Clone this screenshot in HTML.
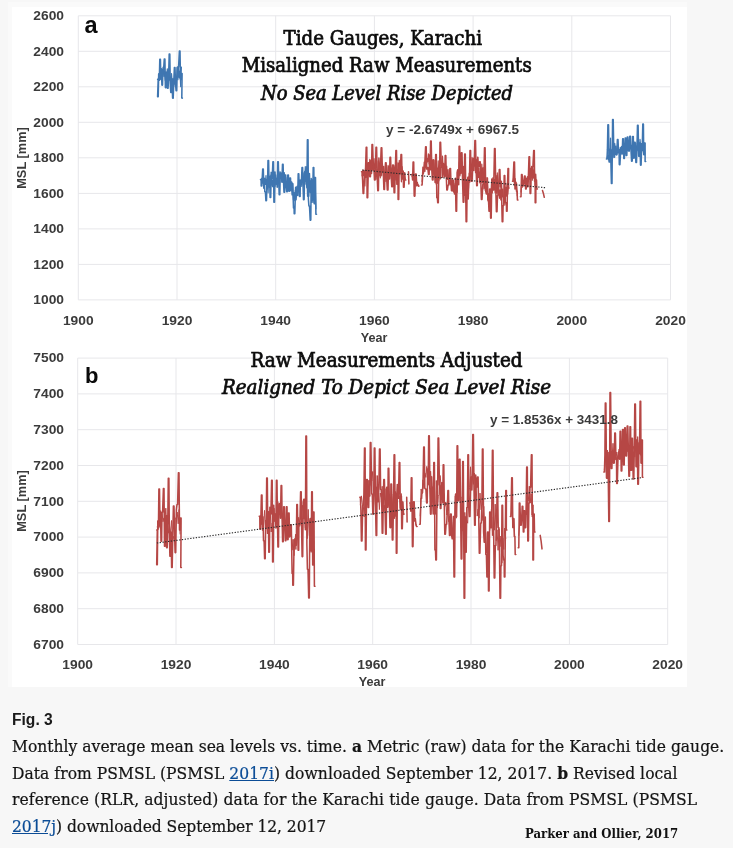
<!DOCTYPE html>
<html lang="en">
<head>
<meta charset="utf-8">
<title>Fig. 3 - Monthly average mean sea levels vs. time, Karachi tide gauge</title>
<style>
html,body{margin:0;padding:0;}
body{width:733px;height:848px;position:relative;overflow:hidden;background:#f7f7f7;font-family:"DejaVu Serif Condensed","DejaVu Serif","Liberation Serif",serif;color:#1b1b1b;}
.topband{position:absolute;left:8px;top:2px;width:679px;height:685px;background:#fafafa;}
.panel{position:absolute;left:12px;top:7px;width:675.3px;height:680px;background:#fff;}
figcaption{position:absolute;left:0;top:0;width:733px;height:848px;margin:0;}
.figno{position:absolute;left:12px;top:710px;font-family:"Liberation Sans",Arial,sans-serif;font-weight:700;font-size:15.6px;line-height:20px;color:#1a1a1a;white-space:nowrap;}
.ln{font-stretch:condensed;position:absolute;left:12px;font-size:17.3px;line-height:27px;white-space:nowrap;color:#141414;-webkit-text-stroke:0.2px #141414;}
.ln a{color:#0b4c96;text-decoration:underline;-webkit-text-stroke-color:#0b4c96;}
.l1{top:732.5px;letter-spacing:0.01px;}
.l2{top:759.5px;letter-spacing:0.04px;}
.l3{top:786.3px;letter-spacing:0.09px;}
.l4{top:813.0px;letter-spacing:-0.06px;}
.credit{font-stretch:condensed;position:absolute;left:525px;top:824.5px;font-size:13px;line-height:18px;white-space:nowrap;color:#111;font-weight:700;}
</style>
</head>
<body>
<div class="topband"></div>
<figure style="margin:0">
<div class="panel"></div>
<svg width="733" height="848" viewBox="0 0 733 848" style="position:absolute;left:0;top:0">
<g stroke="#e7e7ea" stroke-width="1" fill="none">
<line x1="78.3" y1="15.8" x2="670.5" y2="15.8"/>
<line x1="78.3" y1="51.3" x2="670.5" y2="51.3"/>
<line x1="78.3" y1="86.8" x2="670.5" y2="86.8"/>
<line x1="78.3" y1="122.3" x2="670.5" y2="122.3"/>
<line x1="78.3" y1="157.8" x2="670.5" y2="157.8"/>
<line x1="78.3" y1="193.4" x2="670.5" y2="193.4"/>
<line x1="78.3" y1="228.9" x2="670.5" y2="228.9"/>
<line x1="78.3" y1="264.4" x2="670.5" y2="264.4"/>
<line x1="78.3" y1="299.9" x2="670.5" y2="299.9"/>
<line x1="78.3" y1="15.8" x2="78.3" y2="299.9"/>
<line x1="177.0" y1="15.8" x2="177.0" y2="299.9"/>
<line x1="275.7" y1="15.8" x2="275.7" y2="299.9"/>
<line x1="374.4" y1="15.8" x2="374.4" y2="299.9"/>
<line x1="473.1" y1="15.8" x2="473.1" y2="299.9"/>
<line x1="571.8" y1="15.8" x2="571.8" y2="299.9"/>
<line x1="670.5" y1="15.8" x2="670.5" y2="299.9"/>
<line x1="77.7" y1="358.1" x2="667.7" y2="358.1"/>
<line x1="77.7" y1="393.9" x2="667.7" y2="393.9"/>
<line x1="77.7" y1="429.7" x2="667.7" y2="429.7"/>
<line x1="77.7" y1="465.5" x2="667.7" y2="465.5"/>
<line x1="77.7" y1="501.3" x2="667.7" y2="501.3"/>
<line x1="77.7" y1="537.1" x2="667.7" y2="537.1"/>
<line x1="77.7" y1="572.9" x2="667.7" y2="572.9"/>
<line x1="77.7" y1="608.7" x2="667.7" y2="608.7"/>
<line x1="77.7" y1="644.5" x2="667.7" y2="644.5"/>
<line x1="77.7" y1="358.1" x2="77.7" y2="644.5"/>
<line x1="176.0" y1="358.1" x2="176.0" y2="644.5"/>
<line x1="274.4" y1="358.1" x2="274.4" y2="644.5"/>
<line x1="372.7" y1="358.1" x2="372.7" y2="644.5"/>
<line x1="471.0" y1="358.1" x2="471.0" y2="644.5"/>
<line x1="569.4" y1="358.1" x2="569.4" y2="644.5"/>
<line x1="667.7" y1="358.1" x2="667.7" y2="644.5"/>
</g>
<g>
<polyline points="158.2,78.6 158.9,77.2 159.6,80.1 160.3,71.4 161.0,76.9 161.7,69.1 162.4,73.2 163.1,67.0 163.8,76.3 164.5,70.8 165.2,80.3 165.9,71.9 166.6,76.6 167.3,68.9 168.0,79.7 168.7,72.1 169.4,80.1 170.1,76.5 170.8,87.7 171.5,73.5 172.2,82.3 173.0,78.5 173.7,86.8 174.4,78.3 175.1,84.1 175.8,76.1 176.5,80.3 177.2,67.1 177.9,79.7 178.6,66.4 179.3,77.8 180.0,71.0 180.7,86.7 181.4,67.1" fill="none" stroke="#3f76b1" stroke-width="1.2" stroke-linejoin="round" stroke-linecap="round"/>
<polyline points="261.1,179.7 261.8,178.4 262.5,183.1 263.2,177.9 263.9,188.1 264.6,178.5 265.3,184.4 266.0,175.5 266.7,189.3 267.4,179.0 268.1,192.8 268.8,176.6 269.5,184.9 270.2,175.1 270.9,185.1 271.6,178.6 272.3,186.7 273.0,179.5 273.7,189.6 274.4,173.5 275.1,186.3 275.8,174.9 276.5,184.3 277.2,179.4 277.9,186.6 278.6,174.8 279.3,177.1 280.0,171.7 280.8,177.6 281.5,176.1 282.2,182.5 282.9,175.4 283.6,180.4 284.3,172.6 285.0,181.9 285.7,177.4 286.4,186.4 287.1,181.1 287.8,184.9 288.5,179.7 289.2,185.0 289.9,182.2 290.6,185.6 291.3,183.9 292.0,195.0 292.7,183.4 293.4,199.7 294.1,192.6 294.8,200.6 295.5,187.0 296.2,199.8 296.9,186.9 297.6,193.6 298.3,185.6 299.0,188.3 299.7,179.8 300.4,184.1 301.1,179.3 301.8,186.5 302.5,180.8 303.2,182.3 303.9,172.8 304.6,181.8 305.3,166.7 306.0,184.2 306.7,166.5 307.5,196.3 308.2,171.0 308.9,196.2 309.6,173.4 310.3,192.6 311.0,180.5 311.7,202.4 312.4,187.4 313.1,202.4 313.8,184.6 314.5,201.2 315.2,183.3 315.9,208.7" fill="none" stroke="#3f76b1" stroke-width="1.2" stroke-linejoin="round" stroke-linecap="round"/>
<polyline points="607.0,158.3 607.7,155.3 608.4,160.0 609.1,152.0 609.8,158.1 610.5,138.1 611.2,161.3 611.9,150.0 612.6,158.1 613.3,148.3 614.0,154.3 614.7,143.3 615.4,150.0 616.1,146.0 616.8,154.9 617.5,149.4 618.2,153.2 618.9,149.3 619.6,153.4 620.3,147.4 621.0,154.2 621.7,147.6 622.4,153.1 623.1,144.5 623.8,151.1 624.5,143.6 625.2,148.3 625.9,145.1 626.6,148.0 627.3,141.7 628.0,146.3 628.7,144.2 629.4,151.0 630.2,141.9 630.9,149.1 631.6,145.3 632.3,149.6 633.0,146.4 633.7,151.9 634.4,146.3 635.1,150.2 635.8,143.0 636.5,150.3 637.2,145.8 637.9,150.6 638.6,144.4 639.3,153.4 640.0,139.3 640.7,147.1 641.4,145.0 642.1,150.5 642.8,144.5 643.5,153.0 644.2,145.8 644.9,154.4" fill="none" stroke="#3f76b1" stroke-width="1.2" stroke-linejoin="round" stroke-linecap="round"/>
<polyline points="362.1,175.8 362.8,169.8 363.5,175.7 364.2,170.5 364.9,185.9 365.6,167.9 366.3,177.4 367.0,167.7 367.7,176.5 368.4,164.8 369.1,169.9 369.8,159.4 370.5,169.3 371.2,160.0 371.9,170.1 372.6,161.6 373.3,170.3 374.0,158.7 374.7,169.5 375.4,163.8 376.1,179.1 376.8,169.8 377.5,176.6 378.2,160.9 378.9,176.0 379.6,165.2 380.3,177.8 381.0,163.2 381.7,175.8 382.4,163.6 383.1,171.9 383.8,166.4 384.5,176.4 385.2,173.2 385.9,181.4 386.6,171.3 387.3,179.9 388.1,165.4 388.8,174.4 389.5,169.1 390.2,175.1 390.9,167.4 391.6,178.0 392.3,168.3 393.0,175.4 393.7,166.7 394.4,175.4 395.1,165.2 395.8,180.0 396.5,172.2 397.2,184.2 397.9,162.9 398.6,172.2 399.3,160.4 400.0,173.8 400.7,167.7 401.4,181.8 402.1,166.7 402.8,175.6 403.5,172.5 404.2,179.7 404.9,179.5" fill="none" stroke="#b64745" stroke-width="1.2" stroke-linejoin="round" stroke-linecap="round"/>
<polyline points="412.1,176.3 412.8,174.4 413.5,178.1 414.2,174.5 415.0,182.9 415.7,178.1 416.4,186.0 417.1,183.1 417.8,185.6 418.5,184.9" fill="none" stroke="#b64745" stroke-width="1.2" stroke-linejoin="round" stroke-linecap="round"/>
<polyline points="422.1,181.6 422.8,167.0 423.5,173.7 424.2,162.1 424.9,171.4 425.6,160.3 426.3,167.6 427.0,158.4 427.7,161.8 428.4,153.9 429.1,163.9 429.8,157.1 430.5,170.0 431.2,159.5 431.9,168.7 432.6,159.8 433.3,169.9 434.0,160.1 434.7,176.9 435.4,173.1 436.1,183.9 436.8,167.8 437.5,183.3 438.2,160.9 438.9,180.8 439.6,165.4 440.3,179.0 441.0,165.3 441.8,167.3 442.5,156.2 443.2,168.3 443.9,163.3 444.6,176.9 445.3,167.7 446.0,176.4 446.7,166.1 447.4,179.5 448.1,169.5 448.8,184.0 449.5,180.1 450.2,184.8 450.9,178.6 451.6,186.3 452.3,180.9 453.0,191.1 453.7,185.4 454.4,194.1 455.1,183.5 455.8,195.9 456.5,179.1 457.2,192.3 457.9,169.7 458.6,178.2 459.3,161.8 460.0,175.8 460.7,161.4 461.4,171.2 462.1,161.9 462.8,180.1 463.5,166.4 464.2,195.5 464.9,183.6 465.6,202.3 466.3,181.7 467.0,190.8 467.7,177.0 468.4,190.4 469.2,173.0 469.9,182.1 470.6,164.5 471.3,170.6 472.0,157.4 472.7,164.5 473.4,158.0 474.1,166.2 474.8,155.1 475.5,172.7 476.2,159.3 476.9,170.1 477.6,157.3 478.3,177.5 479.0,168.0 479.7,182.8 480.4,171.7 481.1,182.7 481.8,164.0 482.5,182.9 483.2,167.5 483.9,188.8 484.6,174.3 485.3,190.5 486.0,177.7 486.7,192.3 487.4,184.2 488.1,200.9 488.8,193.6 489.5,202.3 490.2,194.0 490.9,201.9 491.6,179.9 492.3,192.9 493.0,177.6 493.7,190.3 494.4,179.3 495.1,192.7 495.9,175.4 496.6,193.2 497.3,172.9 498.0,194.5 498.7,185.9 499.4,198.3 500.1,189.8 500.8,200.0 501.5,181.0 502.2,196.9 502.9,189.1 503.6,201.8 504.3,197.7 505.0,204.9 505.7,187.2 506.4,196.2 507.1,183.4 507.8,194.2 508.5,185.7" fill="none" stroke="#b64745" stroke-width="1.2" stroke-linejoin="round" stroke-linecap="round"/>
<polyline points="513.1,181.1 513.8,176.0 514.5,185.7 515.2,178.7 515.9,188.5 516.6,183.3 517.3,195.6" fill="none" stroke="#b64745" stroke-width="1.2" stroke-linejoin="round" stroke-linecap="round"/>
<polyline points="521.0,192.0 521.7,182.7 522.5,187.2 523.2,181.7 523.9,183.0 524.6,180.8 525.3,182.7 526.0,179.8 526.7,181.2 527.4,176.5 528.1,181.6 528.8,174.5 529.5,179.1 530.2,168.1 530.9,177.6 531.6,166.4 532.3,180.1 533.0,167.1 533.7,178.2 534.4,169.6 535.1,185.5 535.8,174.2 536.5,187.8" fill="none" stroke="#b64745" stroke-width="1.2" stroke-linejoin="round" stroke-linecap="round"/>
<polyline points="157.6,79.5 158.2,79.5 157.6,96.7 158.2,96.7 158.7,73.9 159.3,80.2 159.8,59.2 160.4,59.2 160.9,79.5 161.4,68.8 161.9,85.1 162.5,85.1 162.9,70.7 163.5,70.7 164.3,58.9 164.9,58.9 165.4,87.6 166.0,87.6 166.8,72.5 167.4,72.5 167.5,88.3 168.1,88.3 168.7,73.1 169.2,53.9 169.8,53.9 170.3,84.8 170.8,92.5 171.4,92.5 171.5,80.5 172.1,80.5 172.6,98.1 173.2,98.1 173.8,80.7 174.4,67.6 175.0,67.6 175.5,83.6 176.1,90.7 176.7,90.7 177.3,67.5 178.0,66.9 178.6,66.9 179.4,51.1 180.0,51.1 180.5,79.5 181.1,79.5 181.5,73.6 182.1,73.6 181.8,98.1 182.4,98.1" fill="none" stroke="#3f76b1" stroke-width="1.55" stroke-linejoin="round" stroke-linecap="round"/>
<polyline points="260.5,179.6 261.1,179.6 261.2,185.9 261.8,185.9 262.2,178.9 262.7,169.1 263.3,169.1 263.8,188.0 264.3,178.2 264.8,191.7 265.4,191.7 265.9,200.6 266.5,200.6 267.0,180.7 267.5,186.3 268.0,160.6 268.6,160.6 269.1,186.9 269.6,176.4 270.1,197.5 270.7,197.5 271.2,172.4 271.6,178.5 272.2,178.5 272.9,161.7 273.5,161.7 273.9,202.2 274.5,202.2 275.0,172.0 275.5,184.1 276.0,178.5 276.6,178.5 277.2,187.2 277.7,161.7 278.3,161.7 278.8,182.2 279.2,194.8 279.8,194.8 280.3,172.9 280.8,173.3 281.4,173.3 281.9,181.9 282.5,164.3 283.1,164.3 283.5,181.4 284.0,192.2 284.6,192.2 285.1,174.9 285.7,174.9 286.2,186.5 286.7,191.7 287.3,191.7 287.8,174.9 288.4,174.9 288.9,191.2 289.5,191.2 289.9,178.0 290.5,178.0 291.0,190.7 291.6,182.0 292.1,183.8 292.7,183.8 293.5,208.0 294.1,208.0 294.2,213.8 294.8,213.8 295.5,190.4 296.1,193.2 296.7,193.2 297.2,186.3 297.7,195.4 298.2,173.8 298.8,173.8 299.5,196.4 300.1,196.4 300.3,183.8 300.9,183.8 301.5,179.5 302.0,167.5 302.6,167.5 303.1,187.7 303.5,199.6 304.1,199.6 304.7,171.8 305.2,171.2 305.8,171.2 305.8,180.7 306.4,180.7 306.9,187.8 307.4,139.8 308.0,139.8 308.4,199.3 308.9,205.9 309.5,205.9 310.2,220.1 310.8,220.1 311.2,178.6 311.7,180.7 312.3,180.7 312.7,198.0 313.2,167.5 313.8,167.5 314.2,203.8 314.8,203.8 314.9,177.5 315.5,177.5 315.9,214.3 316.5,214.3" fill="none" stroke="#3f76b1" stroke-width="1.55" stroke-linejoin="round" stroke-linecap="round"/>
<polyline points="361.5,171.7 362.1,171.7 362.6,180.2 363.1,193.4 363.7,193.4 364.4,175.6 365.0,175.6 365.6,167.6 366.2,147.2 366.8,147.2 367.1,197.8 367.7,197.8 368.4,162.8 369.0,162.8 369.8,176.7 370.4,176.7 370.9,161.0 371.5,173.5 372.0,144.5 372.6,144.5 373.4,170.1 374.0,170.1 374.5,180.0 375.1,180.0 375.6,163.5 376.0,147.2 376.6,147.2 377.2,176.6 377.8,190.6 378.4,190.6 378.9,158.1 379.4,173.9 380.0,173.9 380.6,163.5 381.2,147.8 381.8,147.8 382.3,167.8 382.9,167.8 383.4,174.9 383.9,189.5 384.5,189.5 385.0,170.6 385.5,162.8 386.1,162.8 386.7,178.1 387.3,190.0 388.0,190.0 388.5,166.7 389.1,166.7 389.5,179.0 390.0,157.3 390.6,157.3 391.2,176.8 391.8,186.7 392.4,186.7 392.7,165.0 393.3,165.0 394.1,192.8 394.7,192.8 395.3,170.7 395.9,150.6 396.5,150.6 396.9,184.3 397.4,170.1 398.0,170.1 398.1,199.5 398.7,199.5 399.2,163.5 399.7,171.7 400.3,171.7 401.0,154.5 401.6,154.5 402.1,178.9 402.6,171.1 403.2,171.1 403.5,187.3 404.1,187.3 404.7,172.8 405.3,180.0 405.9,180.0" fill="none" stroke="#b64745" stroke-width="1.55" stroke-linejoin="round" stroke-linecap="round"/>
<polyline points="408.5,171.7 408.9,183.9" fill="none" stroke="#b64745" stroke-width="1.55" stroke-linejoin="round" stroke-linecap="round"/>
<polyline points="411.5,174.5 412.1,174.5 412.6,180.0 413.1,162.0 413.7,162.0 414.2,196.1 414.9,196.1 415.5,173.9 416.1,173.9 416.6,182.2 417.2,182.2 417.8,185.2 418.4,186.1 419.0,186.1" fill="none" stroke="#b64745" stroke-width="1.55" stroke-linejoin="round" stroke-linecap="round"/>
<polyline points="421.5,185.0 422.1,185.0 422.9,172.2 423.5,172.2 423.8,169.5 424.4,169.5 425.0,159.9 425.6,146.7 426.2,146.7 426.7,169.1 427.2,167.6 427.8,167.6 428.5,174.5 429.1,174.5 429.6,154.9 430.1,166.3 430.6,141.1 431.2,141.1 431.8,169.9 432.4,180.0 433.0,180.0 433.5,159.7 433.9,170.1 434.5,170.1 435.1,182.4 435.7,154.5 436.3,154.5 436.8,197.8 437.4,197.8 437.7,202.8 438.3,202.8 438.9,167.0 439.5,177.2 440.0,142.2 440.6,142.2 441.3,165.6 442.0,165.6 442.3,177.2 442.9,177.2 443.7,164.4 444.3,164.4 444.7,175.8 445.2,155.6 445.8,155.6 446.3,176.5 446.8,190.0 447.4,190.0 448.1,185.0 448.7,185.0 449.3,176.5 449.9,168.4 450.5,168.4 451.0,183.8 451.5,190.6 452.1,190.6 452.6,180.0 453.2,180.0 453.7,191.5 454.2,192.3 454.8,192.3 455.4,178.3 456.0,211.2 456.6,211.2 457.1,172.6 457.6,170.1 458.2,170.1 458.7,184.7 459.1,146.2 459.7,146.2 460.2,173.4 460.8,173.4 461.4,152.8 462.0,152.8 462.6,182.5 463.2,202.2 463.8,202.2 464.3,176.0 464.7,153.9 465.3,153.9 466.1,221.7 466.7,221.7 467.2,179.9 467.6,198.9 468.2,198.9 468.9,176.7 469.5,176.7 470.0,150.6 470.6,150.6 471.0,180.9 471.5,181.2 472.1,181.2 472.9,161.7 473.5,161.7 473.9,170.4 474.4,157.9 474.9,140.6 475.5,140.6 476.1,169.2 476.7,185.6 477.3,185.6 477.8,157.2 478.3,166.7 478.9,166.7 479.6,161.7 480.2,161.7 480.8,181.3 481.4,199.5 482.0,199.5 482.8,184.5 483.4,184.5 484.0,170.7 484.5,147.8 485.1,147.8 485.7,191.1 486.3,193.9 486.9,193.9 487.4,177.9 487.9,200.0 488.5,200.0 489.0,211.2 489.6,211.2 489.7,188.9 490.3,188.9 490.6,218.1 491.2,218.1 491.8,179.0 492.4,179.0 493.1,186.7 493.7,186.7 494.5,148.4 495.1,148.4 495.8,189.9 496.4,211.7 497.0,211.7 497.5,195.6 498.1,195.6 498.7,184.2 499.3,169.5 499.9,169.5 500.4,186.7 501.0,186.7 501.6,195.0 502.2,221.7 502.8,221.7 503.1,205.6 503.7,205.6 504.2,175.6 504.8,175.6 505.3,202.7 505.8,202.8 506.4,202.8 506.5,211.2 507.1,211.2 507.5,184.6 508.0,168.4 508.6,168.4 508.5,187.9 509.1,187.9" fill="none" stroke="#b64745" stroke-width="1.55" stroke-linejoin="round" stroke-linecap="round"/>
<polyline points="512.5,181.2 513.1,181.2 513.9,162.0 514.5,162.0 515.0,188.9 515.4,182.2 516.0,182.2 516.5,191.1 517.1,191.1 517.4,200.0 518.0,200.0" fill="none" stroke="#b64745" stroke-width="1.55" stroke-linejoin="round" stroke-linecap="round"/>
<polyline points="520.4,196.7 521.0,196.7 521.5,174.5 522.1,174.5 522.9,185.6 523.5,185.6 524.0,181.4 524.5,176.1 525.1,176.1 525.6,188.9 526.2,188.9 526.3,178.4 526.9,178.4 527.4,186.7 528.0,186.7 528.5,172.8 529.0,156.7 529.6,156.7 530.1,193.4 530.7,193.4 531.2,174.5 531.8,174.5 532.3,166.7 532.9,166.7 533.7,150.6 534.3,150.6 534.6,181.2 535.2,181.2 535.2,202.8 535.8,202.8 535.9,180.0 536.5,180.0 536.8,188.9 537.4,188.9" fill="none" stroke="#b64745" stroke-width="1.55" stroke-linejoin="round" stroke-linecap="round"/>
<polyline points="542.5,190.6 543.4,193.4 544.3,197.3" fill="none" stroke="#b64745" stroke-width="1.55" stroke-linejoin="round" stroke-linecap="round"/>
<polyline points="606.4,158.9 607.0,158.9 607.4,149.9 607.9,124.8 608.5,124.8 609.1,162.0 609.7,162.0 610.0,149.3 610.6,149.3 611.4,183.5 612.0,183.5 612.6,119.5 613.2,119.5 613.9,157.2 614.5,157.2 614.9,148.9 615.5,148.9 616.2,154.6 616.8,154.6 617.4,139.6 618.0,139.6 618.5,151.9 619.1,151.9 619.3,164.6 619.9,164.6 620.6,151.9 621.2,151.9 621.7,146.5 622.2,154.0 622.7,138.8 623.3,138.8 623.8,158.5 624.4,158.5 625.2,137.9 625.8,137.9 626.2,155.4 626.8,155.4 627.3,137.0 627.9,137.0 628.5,151.0 629.1,151.0 629.8,136.2 630.5,136.2 631.0,150.6 631.6,161.1 632.2,161.1 632.7,136.6 633.3,136.6 633.6,158.1 634.2,158.1 634.5,142.3 635.1,142.3 635.9,162.4 636.5,162.4 637.0,146.2 637.5,125.2 638.1,125.2 638.7,156.3 639.3,156.3 639.4,143.1 640.0,143.1 640.5,165.1 641.1,165.1 641.7,143.5 642.2,150.7 642.8,123.9 643.4,123.9 643.7,154.6 644.3,154.6 644.5,143.1 645.1,143.1 645.1,161.5 645.7,161.5" fill="none" stroke="#3f76b1" stroke-width="1.55" stroke-linejoin="round" stroke-linecap="round"/>
<line x1="362.6" y1="170.1" x2="545.2" y2="187.7" stroke="#2a2a2a" stroke-width="1.15" stroke-dasharray="1.3 1.5"/>
</g>
<g>
<polyline points="157.3,526.8 158.2,524.2 159.2,527.4 160.1,512.7 161.1,513.9 162.0,512.6 163.0,521.8 163.9,517.9 164.9,522.3 165.8,508.2 166.8,525.7 167.7,525.6 168.7,533.2 169.6,526.4 170.6,533.3 171.5,520.5 172.5,539.6 173.4,536.3 174.4,541.2 175.3,518.1 176.3,518.2 177.2,512.1 178.2,523.8 179.1,509.5 180.1,534.0" fill="none" stroke="#b64745" stroke-width="1.0" stroke-linejoin="round" stroke-linecap="round"/>
<polyline points="259.8,516.3 260.8,515.8 261.7,524.7 262.6,518.8 263.6,528.0 264.5,510.4 265.5,525.7 266.4,521.7 267.4,534.0 268.3,511.0 269.3,520.8 270.2,510.4 271.2,532.0 272.1,523.1 273.1,525.8 274.0,508.1 275.0,519.9 275.9,513.7 276.9,521.6 277.8,501.5 278.8,512.1 279.7,507.0 280.7,517.4 281.6,510.4 282.6,521.4 283.5,513.8 284.5,522.9 285.4,524.1 286.4,523.4 287.3,521.6 288.3,526.2 289.2,523.8 290.2,536.8 291.1,530.4 292.1,550.2 293.0,539.3 294.0,555.7 294.9,538.3 295.9,549.5 296.8,526.4 297.8,528.3 298.7,517.3 299.7,526.4 300.6,521.7 301.6,525.1 302.5,505.3 303.5,511.5 304.4,506.1 305.4,527.9 306.3,504.1 307.3,538.6 308.2,509.4 309.2,535.2 310.1,539.6 311.1,552.4 312.0,538.5 313.0,549.1 313.9,541.8" fill="none" stroke="#b64745" stroke-width="1.0" stroke-linejoin="round" stroke-linecap="round"/>
<polyline points="604.4,469.6 605.4,456.2 606.3,472.7 607.3,450.0 608.2,462.3 609.2,451.9 610.1,466.9 611.1,457.1 612.0,457.9 613.0,443.3 613.9,457.1 614.9,453.7 615.8,460.1 616.8,452.0 617.7,458.3 618.7,451.5 619.6,458.1 620.6,448.2 621.5,451.0 622.5,444.0 623.4,450.4 624.4,442.1 625.3,445.6 626.3,442.4 627.2,451.8 628.2,443.7 629.1,453.4 630.1,448.2 631.0,456.4 632.0,445.7 632.9,449.3 633.9,446.1 634.8,457.1 635.8,447.4 636.7,450.8 637.7,436.6 638.6,450.2 639.6,446.0 640.5,455.3 641.5,447.7 642.4,461.4" fill="none" stroke="#b64745" stroke-width="1.0" stroke-linejoin="round" stroke-linecap="round"/>
<polyline points="360.4,504.3 361.4,495.9 362.3,504.4 363.2,504.5 364.2,517.0 365.1,491.4 366.1,494.7 367.0,484.2 368.0,498.0 368.9,480.3 369.9,485.6 370.8,475.9 371.8,480.8 372.7,471.5 373.7,496.5 374.6,491.5 375.6,507.5 376.5,486.8 377.5,496.7 378.4,491.0 379.4,509.6 380.3,493.0 381.3,497.1 382.2,486.3 383.2,512.4 384.1,505.0 385.1,511.3 386.0,488.6 387.0,500.6 387.9,492.7 388.9,502.0 389.8,496.8 390.8,503.5 391.7,494.0 392.7,507.5 393.6,494.2 394.6,518.7 395.5,491.5 396.5,496.1 397.4,484.1 398.4,499.0 399.3,495.9 400.3,508.2 401.2,493.5 402.2,509.9 403.1,513.2" fill="none" stroke="#b64745" stroke-width="1.0" stroke-linejoin="round" stroke-linecap="round"/>
<polyline points="410.3,505.1 411.2,502.6 412.2,509.4 413.1,508.0 414.1,521.6 415.0,519.3 416.0,525.4" fill="none" stroke="#b64745" stroke-width="1.0" stroke-linejoin="round" stroke-linecap="round"/>
<polyline points="420.2,515.9 421.1,489.0 422.1,493.6 423.0,479.8 424.0,488.7 424.9,472.9 425.9,477.4 426.8,466.4 427.8,481.4 428.7,479.4 429.7,488.7 430.6,471.2 431.6,487.6 432.5,486.8 433.5,513.9 434.4,500.8 435.4,514.4 436.3,480.5 437.3,508.1 438.2,496.6 439.2,494.6 440.1,475.5 441.1,485.5 442.0,483.1 443.0,503.6 443.9,493.5 444.9,506.3 445.8,502.0 446.8,515.0 447.7,512.3 448.7,521.7 449.6,516.2 450.6,530.7 451.5,528.9 452.5,537.6 453.4,522.2 454.4,533.6 455.3,495.9 456.3,518.2 457.2,487.9 458.2,496.3 459.1,480.2 460.1,499.9 461.0,496.9 462.0,531.2 462.9,517.1 463.9,541.5 464.8,512.4 465.8,538.3 466.7,520.2 467.7,523.2 468.6,491.8 469.6,487.7 470.5,466.8 471.5,487.0 472.4,474.5 473.4,484.3 474.3,473.0 475.3,492.1 476.2,485.7 477.2,516.1 478.1,509.1 479.1,518.2 480.0,493.1 481.0,509.6 481.9,510.6 482.9,520.6 483.8,506.3 484.8,530.0 485.7,533.0 486.7,553.2 487.6,545.2 488.6,551.6 489.5,531.5 490.5,525.1 491.4,509.3 492.4,535.7 493.3,516.8 494.3,530.2 495.2,504.1 496.2,540.7 497.1,529.8 498.1,550.3 499.0,528.7 500.0,546.7 500.9,536.0 501.9,563.1 502.8,538.0 503.8,549.5 504.7,528.0 505.7,538.6" fill="none" stroke="#b64745" stroke-width="1.0" stroke-linejoin="round" stroke-linecap="round"/>
<polyline points="510.9,516.0 511.9,509.6 512.8,525.8 513.8,518.7 514.7,536.1" fill="none" stroke="#b64745" stroke-width="1.0" stroke-linejoin="round" stroke-linecap="round"/>
<polyline points="518.8,535.4 519.8,521.9 520.7,524.2 521.7,516.2 522.6,517.8 523.6,516.4 524.5,514.2 525.5,511.9 526.4,514.9 527.4,499.2 528.3,501.2 529.3,486.2 530.2,503.1 531.2,493.9 532.1,515.0 533.1,504.8 534.0,530.4" fill="none" stroke="#b64745" stroke-width="1.0" stroke-linejoin="round" stroke-linecap="round"/>
<polyline points="156.7,530.0 157.3,530.0 156.7,564.7 157.3,564.7 157.8,520.9 158.4,528.9 158.9,489.0 159.5,489.0 160.0,525.6 160.5,511.0 161.0,541.3 161.6,541.3 162.0,512.3 162.6,512.3 163.4,488.5 164.0,488.5 164.5,546.3 165.1,546.3 165.9,515.8 166.5,515.8 166.6,547.7 167.2,547.7 167.8,520.1 168.3,478.3 168.9,478.3 169.4,537.0 169.9,556.2 170.5,556.2 170.6,532.0 171.2,532.0 171.6,567.5 172.2,567.5 172.8,533.9 173.4,506.0 174.0,506.0 174.6,535.0 175.1,552.6 175.7,552.6 176.4,509.7 177.0,504.5 177.6,504.5 178.4,472.7 179.0,472.7 179.5,530.0 180.1,530.0 180.5,518.0 181.1,518.0 180.8,567.5 181.4,567.5" fill="none" stroke="#b64745" stroke-width="1.55" stroke-linejoin="round" stroke-linecap="round"/>
<polyline points="259.2,516.2 259.8,516.2 259.9,529.0 260.5,529.0 260.9,516.7 261.4,495.0 262.0,495.0 262.5,530.1 263.0,516.8 263.5,540.7 264.1,540.7 264.6,558.7 265.2,558.7 265.7,520.5 266.2,528.5 266.7,478.0 267.3,478.0 267.8,527.9 268.3,512.6 268.8,552.3 269.4,552.3 269.9,507.3 270.3,514.0 270.9,514.0 271.6,480.2 272.2,480.2 272.6,561.9 273.2,561.9 273.7,505.3 274.2,521.2 274.7,514.0 275.3,514.0 275.9,527.9 276.4,480.2 277.0,480.2 277.4,517.9 277.9,547.0 278.5,547.0 278.9,504.3 279.4,503.5 280.0,503.5 280.5,518.2 281.1,485.5 281.7,485.5 282.1,518.3 282.6,541.7 283.2,541.7 283.7,506.7 284.3,506.7 284.8,526.8 285.3,540.7 285.9,540.7 286.4,506.7 287.0,506.7 287.5,539.6 288.1,539.6 288.5,513.0 289.1,513.0 289.6,537.0 290.2,526.9 290.7,524.7 291.3,524.7 292.1,573.5 292.7,573.5 292.8,585.2 293.4,585.2 294.1,539.9 294.7,543.8 295.3,543.8 295.8,534.6 296.3,545.3 296.8,504.6 297.4,504.6 298.1,550.2 298.7,550.2 298.9,524.7 299.5,524.7 300.0,518.5 300.6,491.8 301.2,491.8 301.6,528.4 302.1,556.6 302.7,556.6 303.2,502.2 303.8,499.3 304.4,499.3 304.4,518.4 305.0,518.4 305.4,529.8 305.9,436.0 306.5,436.0 306.9,545.2 307.4,569.3 308.0,569.3 308.7,598.0 309.3,598.0 309.8,520.7 310.2,518.4 310.8,518.4 311.2,550.8 311.7,491.8 312.3,491.8 312.7,565.0 313.3,565.0 313.4,512.0 314.0,512.0 314.4,586.3 315.0,586.3" fill="none" stroke="#b64745" stroke-width="1.55" stroke-linejoin="round" stroke-linecap="round"/>
<polyline points="359.8,497.3 360.4,497.3 360.9,510.2 361.4,541.0 362.0,541.0 362.7,505.2 363.3,505.2 363.9,494.0 364.5,448.0 365.1,448.0 365.4,550.0 366.0,550.0 366.7,479.4 367.3,479.4 368.1,507.4 368.7,507.4 369.2,480.8 369.8,496.1 370.3,442.4 370.9,442.4 371.7,494.0 372.3,494.0 372.8,514.1 373.4,514.1 373.9,483.7 374.3,448.0 374.9,448.0 375.5,503.2 376.1,535.4 376.7,535.4 377.2,475.9 377.7,501.8 378.3,501.8 378.9,486.7 379.5,449.1 380.1,449.1 380.6,489.5 381.2,489.5 381.7,500.0 382.2,533.2 382.8,533.2 383.3,497.0 383.8,479.4 384.4,479.4 385.0,507.2 385.6,534.3 386.2,534.3 386.7,487.2 387.3,487.2 387.8,507.3 388.2,468.2 388.8,468.2 389.4,506.0 390.0,527.6 390.6,527.6 390.9,483.9 391.5,483.9 392.3,539.9 392.9,539.9 393.5,498.5 394.1,454.7 394.7,454.7 395.1,516.1 395.6,494.0 396.2,494.0 396.3,553.3 396.9,553.3 397.4,484.5 397.9,497.3 398.5,497.3 399.2,462.6 399.8,462.6 400.3,509.4 400.8,496.2 401.4,496.2 401.7,528.7 402.3,528.7 402.9,501.9 403.5,514.1 404.1,514.1" fill="none" stroke="#b64745" stroke-width="1.55" stroke-linejoin="round" stroke-linecap="round"/>
<polyline points="406.7,497.3 407.1,522.0" fill="none" stroke="#b64745" stroke-width="1.55" stroke-linejoin="round" stroke-linecap="round"/>
<polyline points="409.7,503.0 410.3,503.0 410.8,511.1 411.3,477.8 411.9,477.8 412.4,546.6 413.0,546.6 413.6,501.8 414.2,501.8 414.7,518.6 415.3,518.6 415.9,523.9 416.5,526.4 417.1,526.4" fill="none" stroke="#b64745" stroke-width="1.55" stroke-linejoin="round" stroke-linecap="round"/>
<polyline points="419.6,524.2 420.2,524.2 421.0,498.4 421.6,498.4 421.9,492.8 422.5,492.8 423.1,478.8 423.7,446.9 424.3,446.9 424.8,487.7 425.3,489.0 425.9,489.0 426.6,503.0 427.2,503.0 427.7,468.7 428.2,484.8 428.7,435.7 429.3,435.7 429.9,490.0 430.5,514.1 431.1,514.1 431.6,476.8 432.0,494.0 432.6,494.0 433.2,514.0 433.8,462.6 434.4,462.6 434.9,550.0 435.5,550.0 435.8,560.0 436.4,560.0 437.0,490.9 437.5,505.0 438.1,437.9 438.7,437.9 439.4,485.0 440.0,485.0 440.3,508.5 440.9,508.5 441.7,482.7 442.3,482.7 442.8,502.3 443.2,464.8 443.8,464.8 444.3,504.9 444.8,534.3 445.4,534.3 446.1,524.2 446.7,524.2 447.3,509.3 447.9,490.6 448.5,490.6 449.0,521.0 449.5,535.4 450.1,535.4 450.6,514.1 451.2,514.1 451.7,535.8 452.2,538.8 452.8,538.8 453.4,516.4 454.0,576.9 454.6,576.9 455.1,505.1 455.6,494.0 456.2,494.0 456.6,516.7 457.1,445.8 457.7,445.8 458.2,500.7 458.8,500.7 459.4,459.2 460.0,459.2 460.6,511.9 461.2,558.9 461.8,558.9 462.2,511.7 462.7,461.5 463.3,461.5 464.1,598.2 464.7,598.2 465.1,516.8 465.6,552.2 466.2,552.2 466.8,507.4 467.4,507.4 467.9,454.7 468.5,454.7 468.9,508.9 469.4,516.4 470.0,516.4 470.8,477.1 471.4,477.1 471.9,490.0 472.3,474.5 472.8,434.6 473.4,434.6 474.0,488.1 474.6,525.3 475.2,525.3 475.7,475.0 476.2,487.2 476.8,487.2 477.5,477.1 478.1,477.1 478.7,513.3 479.3,553.3 479.9,553.3 480.7,523.1 481.3,523.1 481.9,501.9 482.4,449.1 483.0,449.1 483.6,531.7 484.2,542.1 484.8,542.1 485.3,517.1 485.8,554.5 486.4,554.5 486.9,576.9 487.5,576.9 487.6,532.0 488.2,532.0 488.5,591.0 489.1,591.0 489.7,512.0 490.3,512.0 491.0,527.6 491.6,527.6 492.4,450.3 493.0,450.3 493.6,528.7 494.2,578.0 494.8,578.0 495.3,545.5 495.9,545.5 496.5,526.4 497.1,492.8 497.7,492.8 498.2,527.6 498.8,527.6 499.4,542.1 500.0,598.2 500.6,598.2 500.9,565.7 501.5,565.7 502.0,505.2 502.6,505.2 503.1,555.4 503.6,560.0 504.2,560.0 504.3,576.9 504.9,576.9 505.4,526.6 505.8,490.6 506.4,490.6 506.3,530.0 506.9,530.0" fill="none" stroke="#b64745" stroke-width="1.55" stroke-linejoin="round" stroke-linecap="round"/>
<polyline points="510.3,516.4 510.9,516.4 511.7,477.8 512.3,477.8 512.8,527.6 513.2,518.6 513.8,518.6 514.3,536.5 514.9,536.5 515.2,554.5 515.8,554.5" fill="none" stroke="#b64745" stroke-width="1.55" stroke-linejoin="round" stroke-linecap="round"/>
<polyline points="518.2,547.7 518.8,547.7 519.3,503.0 519.9,503.0 520.6,525.3 521.2,525.3 521.7,518.3 522.2,506.3 522.8,506.3 523.3,532.0 523.9,532.0 524.0,510.8 524.6,510.8 525.1,527.6 525.7,527.6 526.2,503.5 526.7,467.1 527.3,467.1 527.8,541.0 528.4,541.0 528.9,503.0 529.5,503.0 530.0,487.2 530.6,487.2 531.4,454.7 532.0,454.7 532.3,516.4 532.9,516.4 532.9,560.0 533.5,560.0 533.6,514.1 534.2,514.1 534.5,532.0 535.1,532.0" fill="none" stroke="#b64745" stroke-width="1.55" stroke-linejoin="round" stroke-linecap="round"/>
<polyline points="540.2,535.4 541.1,541.0 542.0,548.9" fill="none" stroke="#b64745" stroke-width="1.55" stroke-linejoin="round" stroke-linecap="round"/>
<polyline points="603.8,471.9 604.4,471.9 604.9,455.8 605.3,403.0 605.9,403.0 606.5,478.1 607.1,478.1 607.4,452.5 608.0,452.5 608.8,521.4 609.4,521.4 610.0,392.4 610.6,392.4 611.3,468.4 611.9,468.4 612.3,451.6 612.9,451.6 613.6,463.1 614.2,463.1 614.8,433.0 615.4,433.0 615.9,457.8 616.5,457.8 616.7,483.4 617.3,483.4 618.0,457.8 618.6,457.8 619.1,449.6 619.6,459.2 620.1,431.3 620.7,431.3 621.2,471.0 621.8,471.0 622.6,429.5 623.2,429.5 623.6,464.9 624.2,464.9 624.7,427.7 625.3,427.7 625.9,456.0 626.5,456.0 627.2,426.0 627.8,426.0 628.4,452.2 628.9,476.3 629.5,476.3 630.0,426.8 630.6,426.8 630.9,470.2 631.5,470.2 631.8,438.3 632.4,438.3 633.2,479.0 633.8,479.0 634.3,447.8 634.8,403.9 635.4,403.9 636.0,466.6 636.6,466.6 636.7,440.1 637.3,440.1 637.8,484.3 638.4,484.3 639.0,442.8 639.5,453.7 640.1,401.2 640.7,401.2 641.0,463.1 641.6,463.1 641.8,440.1 642.4,440.1 642.4,477.2 643.0,477.2" fill="none" stroke="#b64745" stroke-width="1.55" stroke-linejoin="round" stroke-linecap="round"/>
<line x1="156.9" y1="543.0" x2="642.6" y2="477.5" stroke="#2a2a2a" stroke-width="1.15" stroke-dasharray="1.3 1.5"/>
</g>
<g font-family="'Liberation Sans', Arial, sans-serif" font-weight="700" font-size="13.5" fill="#3b3b3b">
<text x="64" y="20.0" text-anchor="end" textLength="30.7" lengthAdjust="spacingAndGlyphs">2600</text>
<text x="64" y="55.5" text-anchor="end" textLength="30.7" lengthAdjust="spacingAndGlyphs">2400</text>
<text x="64" y="91.0" text-anchor="end" textLength="30.7" lengthAdjust="spacingAndGlyphs">2200</text>
<text x="64" y="126.5" text-anchor="end" textLength="30.7" lengthAdjust="spacingAndGlyphs">2000</text>
<text x="64" y="162.0" text-anchor="end" textLength="30.7" lengthAdjust="spacingAndGlyphs">1800</text>
<text x="64" y="197.6" text-anchor="end" textLength="30.7" lengthAdjust="spacingAndGlyphs">1600</text>
<text x="64" y="233.1" text-anchor="end" textLength="30.7" lengthAdjust="spacingAndGlyphs">1400</text>
<text x="64" y="268.6" text-anchor="end" textLength="30.7" lengthAdjust="spacingAndGlyphs">1200</text>
<text x="64" y="304.1" text-anchor="end" textLength="30.7" lengthAdjust="spacingAndGlyphs">1000</text>
<text x="64" y="362.3" text-anchor="end" textLength="30.7" lengthAdjust="spacingAndGlyphs">7500</text>
<text x="64" y="398.1" text-anchor="end" textLength="30.7" lengthAdjust="spacingAndGlyphs">7400</text>
<text x="64" y="433.9" text-anchor="end" textLength="30.7" lengthAdjust="spacingAndGlyphs">7300</text>
<text x="64" y="469.7" text-anchor="end" textLength="30.7" lengthAdjust="spacingAndGlyphs">7200</text>
<text x="64" y="505.5" text-anchor="end" textLength="30.7" lengthAdjust="spacingAndGlyphs">7100</text>
<text x="64" y="541.3" text-anchor="end" textLength="30.7" lengthAdjust="spacingAndGlyphs">7000</text>
<text x="64" y="577.1" text-anchor="end" textLength="30.7" lengthAdjust="spacingAndGlyphs">6900</text>
<text x="64" y="612.9" text-anchor="end" textLength="30.7" lengthAdjust="spacingAndGlyphs">6800</text>
<text x="64" y="648.7" text-anchor="end" textLength="30.7" lengthAdjust="spacingAndGlyphs">6700</text>
<text x="78.3" y="324.6" text-anchor="middle" textLength="30.7" lengthAdjust="spacingAndGlyphs">1900</text>
<text x="77.7" y="669.4" text-anchor="middle" textLength="30.7" lengthAdjust="spacingAndGlyphs">1900</text>
<text x="177.0" y="324.6" text-anchor="middle" textLength="30.7" lengthAdjust="spacingAndGlyphs">1920</text>
<text x="176.0" y="669.4" text-anchor="middle" textLength="30.7" lengthAdjust="spacingAndGlyphs">1920</text>
<text x="275.7" y="324.6" text-anchor="middle" textLength="30.7" lengthAdjust="spacingAndGlyphs">1940</text>
<text x="274.4" y="669.4" text-anchor="middle" textLength="30.7" lengthAdjust="spacingAndGlyphs">1940</text>
<text x="374.4" y="324.6" text-anchor="middle" textLength="30.7" lengthAdjust="spacingAndGlyphs">1960</text>
<text x="372.7" y="669.4" text-anchor="middle" textLength="30.7" lengthAdjust="spacingAndGlyphs">1960</text>
<text x="473.1" y="324.6" text-anchor="middle" textLength="30.7" lengthAdjust="spacingAndGlyphs">1980</text>
<text x="471.0" y="669.4" text-anchor="middle" textLength="30.7" lengthAdjust="spacingAndGlyphs">1980</text>
<text x="571.8" y="324.6" text-anchor="middle" textLength="30.7" lengthAdjust="spacingAndGlyphs">2000</text>
<text x="569.4" y="669.4" text-anchor="middle" textLength="30.7" lengthAdjust="spacingAndGlyphs">2000</text>
<text x="670.5" y="324.6" text-anchor="middle" textLength="30.7" lengthAdjust="spacingAndGlyphs">2020</text>
<text x="667.7" y="669.4" text-anchor="middle" textLength="30.7" lengthAdjust="spacingAndGlyphs">2020</text>
<text x="374" y="342" text-anchor="middle" font-size="12.6">Year</text>
<text x="372" y="685.5" text-anchor="middle" font-size="12.6">Year</text>
<text transform="translate(26.3,158) rotate(-90)" text-anchor="middle" font-size="12.8">MSL [mm]</text>
<text transform="translate(26.3,501) rotate(-90)" text-anchor="middle" font-size="12.8">MSL [mm]</text>
<text x="386" y="134" font-size="12.8" textLength="133" lengthAdjust="spacingAndGlyphs">y = -2.6749x + 6967.5</text>
<text x="490" y="423.5" font-size="12.8" textLength="128" lengthAdjust="spacingAndGlyphs">y = 1.8536x + 3431.8</text>
</g>
<g font-family="'Liberation Sans', Arial, sans-serif" font-weight="700" font-size="22" fill="#0a0a0a">
<text x="84.5" y="33.2" font-size="23.5">a</text>
<text x="85" y="382.5">b</text>
</g>
<g font-family="'DejaVu Serif Condensed', 'DejaVu Serif', 'Liberation Serif', serif" font-size="20.2" font-stretch="condensed" fill="#0c0c0c" stroke="#0c0c0c" stroke-width="0.7" text-anchor="middle">
<text x="382.8" y="44.6" textLength="198.5" lengthAdjust="spacingAndGlyphs">Tide Gauges, Karachi</text>
<text x="386.7" y="72.4" textLength="290" lengthAdjust="spacingAndGlyphs">Misaligned Raw Measurements</text>
<text x="387" y="99.6" font-style="italic" textLength="252" lengthAdjust="spacingAndGlyphs">No Sea Level Rise Depicted</text>
<text x="386.5" y="366.5" textLength="272" lengthAdjust="spacingAndGlyphs">Raw Measurements Adjusted</text>
<text x="386.5" y="393.5" font-style="italic" textLength="329" lengthAdjust="spacingAndGlyphs">Realigned To Depict Sea Level Rise</text>
</g>
</svg>
<figcaption>
<div class="figno">Fig. 3</div>
<div class="ln l1" id="l1">Monthly average mean sea levels vs. time. <b>a</b> Metric (raw) data for the Karachi tide gauge.</div>
<div class="ln l2" id="l2">Data from PSMSL (PSMSL <a>2017i</a>) downloaded September 12, 2017. <b>b</b> Revised local</div>
<div class="ln l3" id="l3">reference (RLR, adjusted) data for the Karachi tide gauge. Data from PSMSL (PSMSL</div>
<div class="ln l4" id="l4"><a>2017j</a>) downloaded September 12, 2017</div>
<div class="credit" id="credit">Parker and Ollier, 2017</div>
</figcaption>
</figure>
</body>
</html>
